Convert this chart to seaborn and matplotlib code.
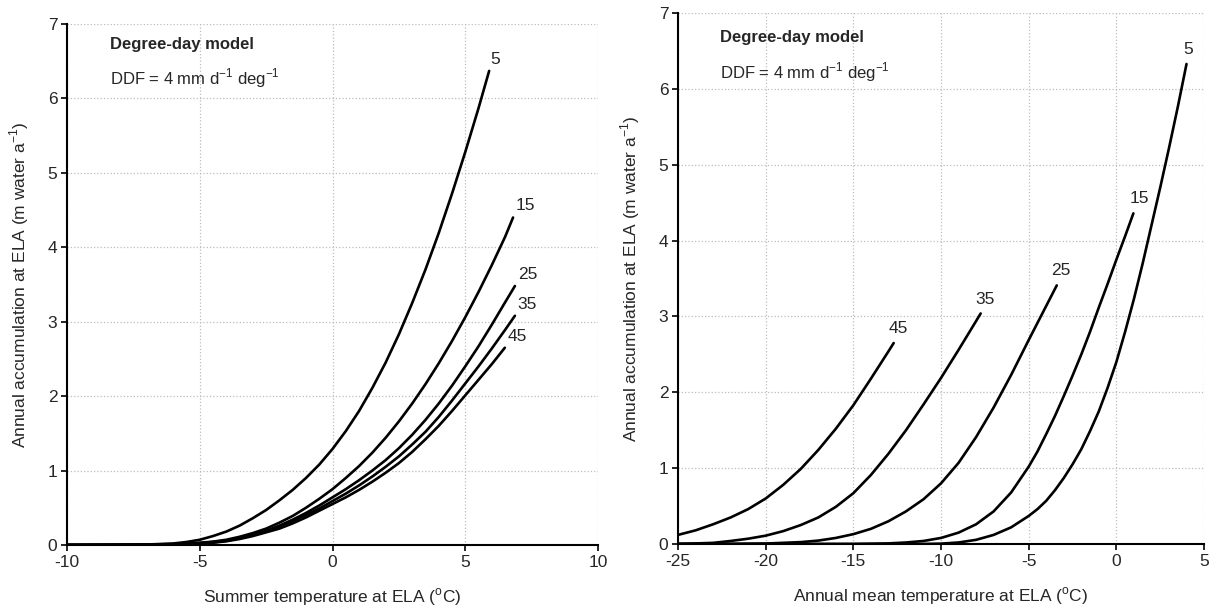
import matplotlib
matplotlib.use("Agg")
import matplotlib.pyplot as plt
import seaborn as sns
import pandas as pd

# curve labels (same in both panels)
labels = ['5', '15', '25', '35', '45']

# left panel: summer temperature at ELA (deg C) vs accumulation (m water/a)
sx_5 = [-10, -8, -7, -6, -5.5, -5, -4.5, -4, -3.5, -3, -2.5, -2, -1.5, -1, -0.5, 0,
        0.5, 1, 1.5, 2, 2.5, 3, 3.5, 4, 4.5, 5, 5.5, 5.9]
sy_5 = [0.0, 0.002, 0.006, 0.02, 0.04, 0.07, 0.12, 0.18, 0.26, 0.36, 0.47, 0.6, 0.74, 0.9, 1.08, 1.29,
        1.53, 1.8, 2.11, 2.45, 2.83, 3.25, 3.7, 4.19, 4.72, 5.28, 5.87, 6.37]
sx_15 = [-10, -8, -7, -6, -5, -4.5, -4, -3.5, -3, -2.5, -2, -1.5, -1, -0.5, 0,
         0.5, 1, 1.5, 2, 2.5, 3, 3.5, 4, 4.5, 5, 5.5, 6, 6.5, 6.8]
sy_15 = [0.0, 0.002, 0.005, 0.012, 0.03, 0.045, 0.07, 0.11, 0.16, 0.22, 0.3, 0.39, 0.5, 0.62, 0.75,
         0.9, 1.06, 1.24, 1.44, 1.66, 1.9, 2.16, 2.44, 2.74, 3.06, 3.4, 3.76, 4.14, 4.4]
sx_25 = [-10, -8, -7, -6, -5, -4.5, -4, -3.5, -3, -2.5, -2, -1.5, -1, -0.5, 0,
         0.5, 1, 1.5, 2, 2.5, 3, 3.5, 4, 4.5, 5, 5.5, 6, 6.5, 6.87]
sy_25 = [0.0, 0.002, 0.004, 0.009, 0.025, 0.04, 0.06, 0.095, 0.14, 0.19, 0.26, 0.34, 0.43, 0.53, 0.64,
         0.75, 0.87, 1.0, 1.14, 1.3, 1.48, 1.68, 1.9, 2.14, 2.4, 2.67, 2.96, 3.26, 3.48]
sx_35 = [-10, -8, -7, -6, -5, -4.5, -4, -3.5, -3, -2.5, -2, -1.5, -1, -0.5, 0,
         0.5, 1, 1.5, 2, 2.5, 3, 3.5, 4, 4.5, 5, 5.5, 6, 6.5, 6.87]
sy_35 = [0.0, 0.002, 0.003, 0.008, 0.02, 0.035, 0.055, 0.09, 0.13, 0.18, 0.24, 0.32, 0.4, 0.49, 0.59,
         0.69, 0.8, 0.92, 1.05, 1.19, 1.35, 1.52, 1.72, 1.94, 2.17, 2.4, 2.64, 2.89, 3.08]
sx_45 = [-10, -8, -7, -6, -5, -4.5, -4, -3.5, -3, -2.5, -2, -1.5, -1, -0.5, 0,
         0.5, 1, 1.5, 2, 2.5, 3, 3.5, 4, 4.5, 5, 5.5, 6, 6.49]
sy_45 = [0.0, 0.002, 0.003, 0.007, 0.018, 0.03, 0.05, 0.08, 0.12, 0.17, 0.22, 0.29, 0.37, 0.46, 0.55,
         0.64, 0.74, 0.85, 0.97, 1.1, 1.25, 1.42, 1.6, 1.8, 2.01, 2.22, 2.43, 2.65]

# right panel: annual mean temperature at ELA (deg C) vs accumulation
ax_5 = [-25, -12, -11, -10, -9, -8, -7, -6, -5, -4.5, -4, -3.5, -3, -2.5, -2, -1.5, -1, -0.5, 0,
        0.5, 1, 1.5, 2, 2.5, 3, 3.5, 4.0]
ay_5 = [0.0, 0.0, 0.001, 0.005, 0.02, 0.055, 0.12, 0.22, 0.37, 0.46, 0.57, 0.71, 0.87, 1.05, 1.25,
        1.49, 1.75, 2.06, 2.4, 2.8, 3.23, 3.7, 4.2, 4.7, 5.22, 5.76, 6.33]
ax_15 = [-25, -15, -13, -12, -11, -10, -9, -8, -7, -6, -5, -4.5, -4, -3.5, -3, -2.5, -2, -1.5, -1,
         -0.5, 0, 0.5, 0.97]
ay_15 = [0.0, 0.0, 0.008, 0.02, 0.04, 0.08, 0.15, 0.26, 0.43, 0.68, 1.02, 1.22, 1.45, 1.69, 1.95,
         2.22, 2.5, 2.8, 3.12, 3.43, 3.75, 4.06, 4.36]
ax_25 = [-25, -22, -20, -18, -17, -16, -15, -14, -13, -12, -11, -10, -9, -8, -7, -6, -5, -4, -3.4]
ay_25 = [0.0, 0.0, 0.006, 0.025, 0.045, 0.08, 0.13, 0.2, 0.3, 0.43, 0.59, 0.8, 1.07, 1.41, 1.8, 2.23,
         2.69, 3.14, 3.41]
ax_35 = [-25, -23, -22, -21, -20, -19, -18, -17, -16, -15, -14, -13, -12, -11, -10, -9, -8, -7.74]
ay_35 = [0.0, 0.015, 0.04, 0.07, 0.11, 0.17, 0.25, 0.35, 0.49, 0.67, 0.91, 1.19, 1.5, 1.84, 2.19, 2.56,
         2.94, 3.04]
ax_45 = [-25, -24, -23, -22, -21, -20, -19, -18, -17, -16, -15, -14, -13, -12.7]
ay_45 = [0.12, 0.18, 0.26, 0.35, 0.46, 0.6, 0.78, 0.99, 1.24, 1.52, 1.83, 2.18, 2.54, 2.65]

left_curves = [(sx_5, sy_5), (sx_15, sy_15), (sx_25, sy_25), (sx_35, sy_35), (sx_45, sy_45)]
right_curves = [(ax_5, ay_5), (ax_15, ay_15), (ax_25, ay_25), (ax_35, ay_35), (ax_45, ay_45)]

sns.set_theme(style="ticks")
plt.rcParams['font.family'] = ['Liberation Sans', 'DejaVu Sans']
plt.rcParams['mathtext.fontset'] = 'custom'
plt.rcParams['mathtext.rm'] = 'Liberation Sans'
plt.rcParams['axes.unicode_minus'] = False

fig = plt.figure(figsize=(12.14, 6.06), dpi=100)
axl = fig.add_axes([0.0552, 0.1007, 0.4374, 0.8597])
axr = fig.add_axes([0.5585, 0.1023, 0.4333, 0.8760])

ylab = 'Annual accumulation at ELA (m water a$^{-1}$)'
ddf = 'DDF = 4 mm d$^{-1}$ deg$^{-1}$'

# label offsets (points) from curve ends
left_off = [(1, 3), (2, 3), (2, 3), (2, 3), (2, 3)]
right_off = [(-2, 5), (-3, 5), (-4, 5), (-4, 5), (-4, 5)]
# text positions (axes fraction) of the two header lines
head_pos = {axl: (0.081, 0.96, 0.896), axr: (0.08, 0.955, 0.889)}

for ax, curves, offs, xlim, xticks, xlabel in [
        (axl, left_curves, left_off, (-10, 10), [-10, -5, 0, 5, 10],
         'Summer temperature at ELA ($^{\\rm o}$C)'),
        (axr, right_curves, right_off, (-25, 5), [-25, -20, -15, -10, -5, 0, 5],
         'Annual mean temperature at ELA ($^{\\rm o}$C)')]:
    for lab, (xs, ys), off in zip(labels, curves, offs):
        df = pd.DataFrame({'x': xs, 'y': ys})
        sns.lineplot(data=df, x='x', y='y', ax=ax, color='black', lw=1.9, sort=False)
        ax.annotate(lab, (xs[-1], ys[-1]), xytext=off, textcoords='offset points',
                    fontsize=12.5, ha='left', va='bottom')
    ax.set_xlim(*xlim)
    ax.set_ylim(0, 7)
    ax.set_xticks(xticks)
    ax.set_yticks(range(0, 8))
    ax.grid(True, linestyle=':', color='#bdbdbd', lw=0.9)
    ax.set_xlabel(xlabel, fontsize=12.5, labelpad=12)
    ax.set_ylabel(ylab, fontsize=12.5, labelpad=12)
    ax.tick_params(labelsize=12.5, length=4, width=1.2, color='black', pad=3)
    sns.despine(ax=ax)
    for s in ['left', 'bottom']:
        ax.spines[s].set_linewidth(1.5)
        ax.spines[s].set_color('black')
    hx, hy1, hy2 = head_pos[ax]
    ax.text(hx, hy1, 'Degree-day model', transform=ax.transAxes,
            fontsize=12, fontweight='bold', va='center')
    ax.text(hx, hy2, ddf, transform=ax.transAxes, fontsize=12, va='center')

fig.savefig('out.png', dpi=100)
